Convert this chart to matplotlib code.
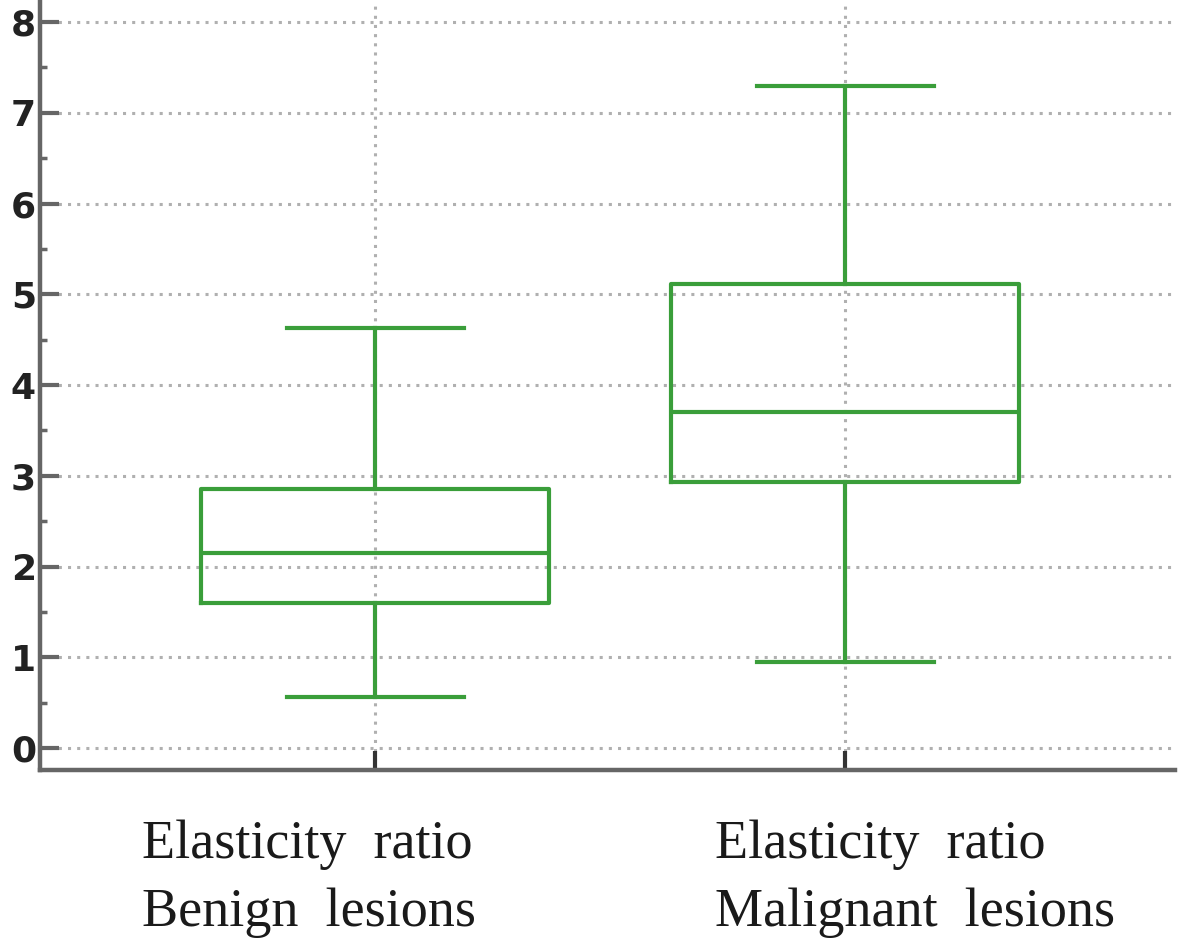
import matplotlib.pyplot as plt
from matplotlib.ticker import MultipleLocator

# box statistics
groups = ["Elasticity  ratio\nBenign  lesions", "Elasticity  ratio\nMalignant  lesions"]
whislo = [0.56, 0.95]
q1 = [1.60, 2.93]
med = [2.15, 3.70]
q3 = [2.86, 5.11]
whishi = [4.63, 7.29]
yticks = [0, 1, 2, 3, 4, 5, 6, 7, 8]

green = "#3a9e3a"
spine = "#666666"

fig = plt.figure(figsize=(11.81, 9.52), dpi=100)
ax = fig.add_axes([0.034, 0.191, 0.961, 0.809])

stats = []
for i in range(len(groups)):
    stats.append(dict(label=groups[i], whislo=whislo[i], q1=q1[i], med=med[i],
                      q3=q3[i], whishi=whishi[i], fliers=[]))

lw = 3.0
pos = [1, 2]
ax.bxp(stats, positions=pos, widths=0.74, showfliers=False,
       boxprops=dict(color=green, linewidth=lw),
       medianprops=dict(color=green, linewidth=lw),
       whiskerprops=dict(color=green, linewidth=lw),
       capprops=dict(color=green, linewidth=lw), capwidths=0.377,
       zorder=3)

ax.set_xlim(0.287, 2.702)
ax.set_ylim(-0.242, 8.242)
ax.set_yticks(yticks)
ax.yaxis.set_minor_locator(MultipleLocator(0.5))

ax.grid(True, which="major", linestyle=(0, (1, 2)), color="#b0b0b0", linewidth=2.2)

for s in ["top", "right"]:
    ax.spines[s].set_visible(False)
for s in ["left", "bottom"]:
    ax.spines[s].set_color(spine)
    ax.spines[s].set_linewidth(3.2)

ax.tick_params(axis="y", which="major", direction="in", length=14, width=3,
               color=spine, pad=3, labelsize=26)
ax.tick_params(axis="y", which="minor", direction="in", length=5, width=2.5,
               color=spine)
ax.tick_params(axis="x", which="major", direction="in", length=14, width=3,
               color="#333333", labelbottom=False)
for lab in ax.get_yticklabels():
    lab.set_fontfamily("DejaVu Sans")
    lab.set_fontweight("bold")
    lab.set_color("#222222")

# category labels, left aligned blocks under each box (not centred in the original)
label_shift = [-0.496, -0.277]
for p, g, d in zip(pos, groups, label_shift):
    ax.text(p + d, -0.064, g, transform=ax.get_xaxis_transform(),
            ha="left", va="top", fontsize=39, family="Liberation Serif",
            color="#1a1a1a", linespacing=1.45)

fig.savefig("out.png", dpi=100)
